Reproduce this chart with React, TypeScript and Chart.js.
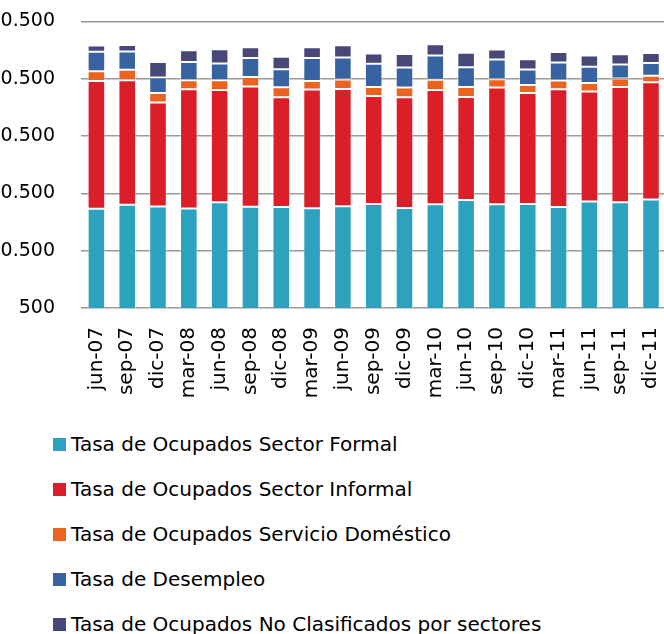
import React, { useEffect, useRef } from "react";
import { Chart, registerables } from "chart.js";

Chart.register(...registerables);

const CATEGORIES = [
  "jun-07", "sep-07", "dic-07", "mar-08", "jun-08", "sep-08", "dic-08",
  "mar-09", "jun-09", "sep-09", "dic-09", "mar-10", "jun-10", "sep-10",
  "dic-10", "mar-11", "jun-11", "sep-11", "dic-11",
];

const FORMAL = [17800, 18500, 18200, 17850, 18950, 18150, 18100, 17900, 18250, 18650, 17950, 18600, 19350, 18600, 18650, 18100, 19100, 18950, 19450];
const INFORMAL = [22300, 21750, 18150, 20800, 19600, 21000, 19150, 20700, 20450, 18850, 19300, 19950, 17950, 20350, 19350, 20550, 19150, 20100, 20450];
const DOMESTICO = [1700, 1800, 1650, 1600, 1700, 1650, 1750, 1500, 1650, 1550, 1700, 1750, 1750, 1450, 1400, 1550, 1500, 1500, 1100];
const DESEMPLEO = [3400, 3200, 2700, 3150, 2900, 3300, 3150, 4000, 3850, 4050, 3500, 4250, 3450, 3450, 2700, 3150, 2850, 2450, 2250];
const NO_CLASIF = [1100, 1150, 2700, 2050, 2500, 1900, 2200, 1900, 2150, 1800, 2350, 1950, 2550, 1750, 1800, 1800, 1950, 1750, 1750];

const Y_TICKS = [500, 10500, 20500, 30500, 40500, 50500];

const SERIES = [
  { label: "Tasa de Ocupados Sector Formal", data: FORMAL, color: "#2ca2bf" },
  { label: "Tasa de Ocupados Sector Informal", data: INFORMAL, color: "#da1f29" },
  { label: "Tasa de Ocupados Servicio Doméstico", data: DOMESTICO, color: "#ea631f" },
  { label: "Tasa de Desempleo", data: DESEMPLEO, color: "#3764a0" },
  { label: "Tasa de Ocupados No Clasificados por sectores", data: NO_CLASIF, color: "#474878" },
];

const FONT = "'DejaVu Sans', sans-serif";

function fmt(v: number): string {
  return String(v).replace(/\B(?=(\d{3})+(?!\d))/g, ".");
}

export default function App() {
  const ref = useRef<HTMLCanvasElement>(null);

  useEffect(() => {
    if (!ref.current) return;
    const chart = new Chart(ref.current, {
      type: "bar",
      data: {
        labels: CATEGORIES,
        datasets: SERIES.map((s) => ({
          label: s.label,
          data: s.data,
          backgroundColor: s.color,
          borderColor: "rgba(255,255,255,0.45)",
          borderWidth: 1,
          borderSkipped: false,
          barPercentage: 0.57,
          categoryPercentage: 1,
          clip: 0,
        })),
      },
      options: {
        animation: false,
        responsive: false,
        layout: { padding: { top: 0, right: 33.6, left: 0, bottom: 0 } },
        plugins: {
          legend: { display: false },
          tooltip: { enabled: false },
        },
        scales: {
          x: {
            stacked: true,
            grid: { display: false, drawTicks: true, tickLength: 19 },
            border: { display: false },
            ticks: {
              autoSkip: false,
              minRotation: 90,
              maxRotation: 90,
              padding: 0,
              color: "#000",
              font: { family: FONT, size: 20 },
            },
            afterFit: (s: any) => {
              s.height = 112;
            },
          },
          y: {
            stacked: true,
            min: 500,
            max: 50500,
            afterBuildTicks: (s: any) => {
              s.ticks = Y_TICKS.map((v) => ({ value: v }));
            },
            ticks: {
              callback: (v: any) => fmt(Number(v)),
              padding: 26,
              color: "#000",
              font: { family: FONT, size: 19 },
            },
            grid: { color: "#9a9a9a", lineWidth: 1.5, drawTicks: false },
            border: { display: false },
            afterFit: (s: any) => {
              s.width = 101;
            },
          },
        },
      },
    });
    return () => chart.destroy();
  }, []);

  return (
    <div
      style={{
        position: "fixed",
        left: 0,
        top: 0,
        width: 664,
        height: 634,
        overflow: "hidden",
        background: "#fff",
        fontFamily: FONT,
      }}
    >
      <div style={{ position: "absolute", left: -20, top: -16, width: 720, height: 436 }}>
        <canvas ref={ref} width={720} height={436} style={{ display: "block", width: 720, height: 436 }} />
      </div>
      {SERIES.map((s, i) => (
        <div
          key={s.label}
          style={{
            position: "absolute",
            left: 53,
            top: 432 + i * 45,
            height: 24,
            display: "flex",
            alignItems: "center",
            whiteSpace: "nowrap",
          }}
        >
          <div style={{ width: 13, height: 13, background: s.color, marginRight: 5, flex: "0 0 auto" }} />
          <span style={{ fontSize: 20, lineHeight: "24px", color: "#000" }}>{s.label}</span>
        </div>
      ))}
    </div>
  );
}
